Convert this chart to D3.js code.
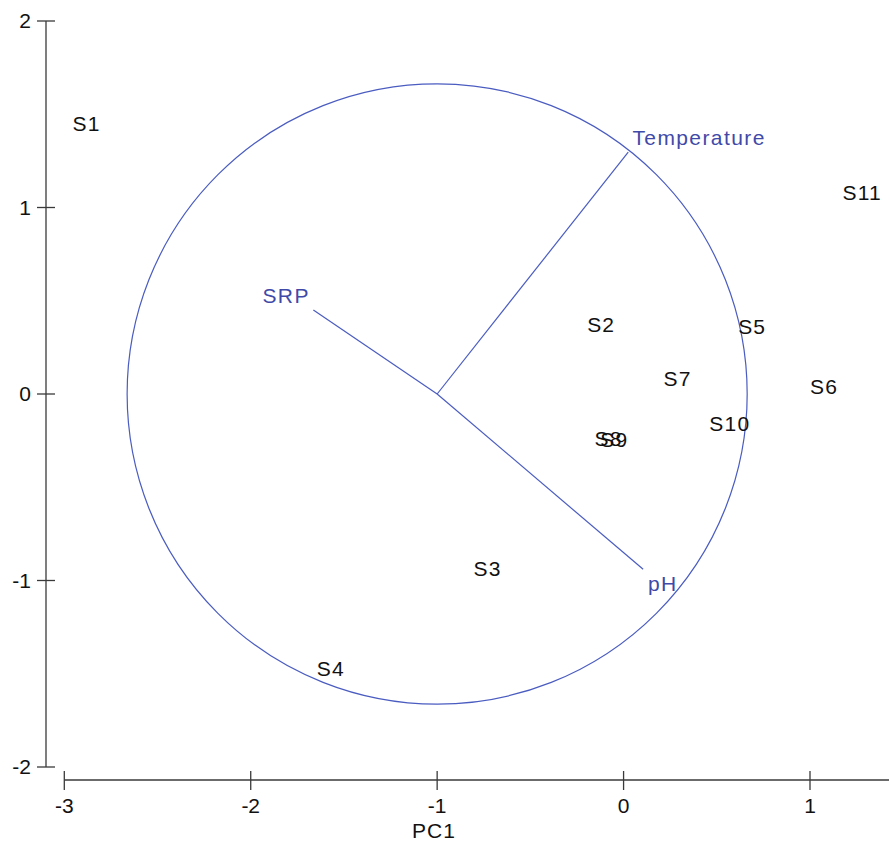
<!DOCTYPE html>
<html><head><meta charset="utf-8">
<script src="https://cdn.jsdelivr.net/npm/d3@7"></script>
<style>body{margin:0;background:#fff}</style>
</head><body>
<script>
const sampleNames = ["S1","S2","S3","S4","S5","S6","S7","S8","S9","S10","S11"];
const sampleX = [-2.88,-0.12,-0.73,-1.57,0.69,1.075,0.29,-0.08,-0.05,0.57,1.28];
const sampleY = [1.45,0.37,-0.935,-1.47,0.36,0.04,0.08,-0.24,-0.245,-0.16,1.08];
const varNames = ["Temperature","SRP","pH"];
const varX = [0.025,-1.664,0.105];
const varY = [1.297,0.45,-0.94];
const varLabelX = [0.405,-1.81,0.21];
const varLabelY = [1.375,0.53,-1.015];
const circleCenter = [-1, 0];
const circleRadius = 1.663;
const xTicks = [-3,-2,-1,0,1];
const yTicks = [-2,-1,0,1,2];

const W = 891, H = 843;
const svg = d3.select("body").append("svg").attr("width",W).attr("height",H);
const x = d3.scaleLinear().domain([-3,1]).range([64.3,810]);
const y = d3.scaleLinear().domain([-2,2]).range([767,21]);
const axisColor = "#3a3a3a", blue = "#4a5cc0", blueText = "#3f4aa8";
const font = "Arial, 'Liberation Sans', sans-serif";
const fs = 21;

// Y axis
const yAxisX = 46;
svg.append("line").attr("x1",yAxisX).attr("x2",yAxisX).attr("y1",y(2)).attr("y2",y(-2)).attr("stroke",axisColor).attr("stroke-width",1.3);
yTicks.forEach(t=>{
  svg.append("line").attr("x1",37).attr("x2",55).attr("y1",y(t)).attr("y2",y(t)).attr("stroke",axisColor).attr("stroke-width",1.3);
  svg.append("text").attr("x",31).attr("y",y(t)).attr("dy","0.35em").attr("text-anchor","end")
    .attr("font-family",font).attr("font-size",fs).attr("fill","#111").text(t);
});
// X axis
const xAxisY = 780;
svg.append("line").attr("x1",x(-3)).attr("x2",889).attr("y1",xAxisY).attr("y2",xAxisY).attr("stroke",axisColor).attr("stroke-width",1.3);
xTicks.forEach(t=>{
  svg.append("line").attr("x1",x(t)).attr("x2",x(t)).attr("y1",771).attr("y2",790).attr("stroke",axisColor).attr("stroke-width",1.3);
  svg.append("text").attr("x",x(t)).attr("y",813).attr("text-anchor","middle")
    .attr("font-family",font).attr("font-size",fs).attr("fill","#111").text(t);
});
svg.append("text").attr("x",434).attr("y",838).attr("text-anchor","middle")
  .attr("font-family",font).attr("font-size",fs).attr("letter-spacing","1px").attr("fill","#111").text("PC1");

// circle
svg.append("ellipse").attr("cx",x(circleCenter[0])).attr("cy",y(circleCenter[1]))
  .attr("rx",x(circleCenter[0]+circleRadius)-x(circleCenter[0]))
  .attr("ry",y(circleCenter[1])-y(circleCenter[1]+circleRadius))
  .attr("fill","none").attr("stroke",blue).attr("stroke-width",1.2);

// vectors
varNames.forEach((n,i)=>{
  svg.append("line").attr("x1",x(circleCenter[0])).attr("y1",y(circleCenter[1]))
    .attr("x2",x(varX[i])).attr("y2",y(varY[i])).attr("stroke",blue).attr("stroke-width",1.2);
  svg.append("text").attr("x",x(varLabelX[i])).attr("y",y(varLabelY[i])).attr("dy","0.35em")
    .attr("text-anchor","middle").attr("font-family",font).attr("font-size",fs)
    .attr("letter-spacing","1.4px").attr("fill",blueText).text(n);
});

// samples
sampleNames.forEach((n,i)=>{
  svg.append("text").attr("x",x(sampleX[i])).attr("y",y(sampleY[i])).attr("dy","0.35em")
    .attr("text-anchor","middle").attr("font-family",font).attr("font-size",fs)
    .attr("letter-spacing","1.2px").attr("fill","#111").text(n);
});
</script>
</body></html>
